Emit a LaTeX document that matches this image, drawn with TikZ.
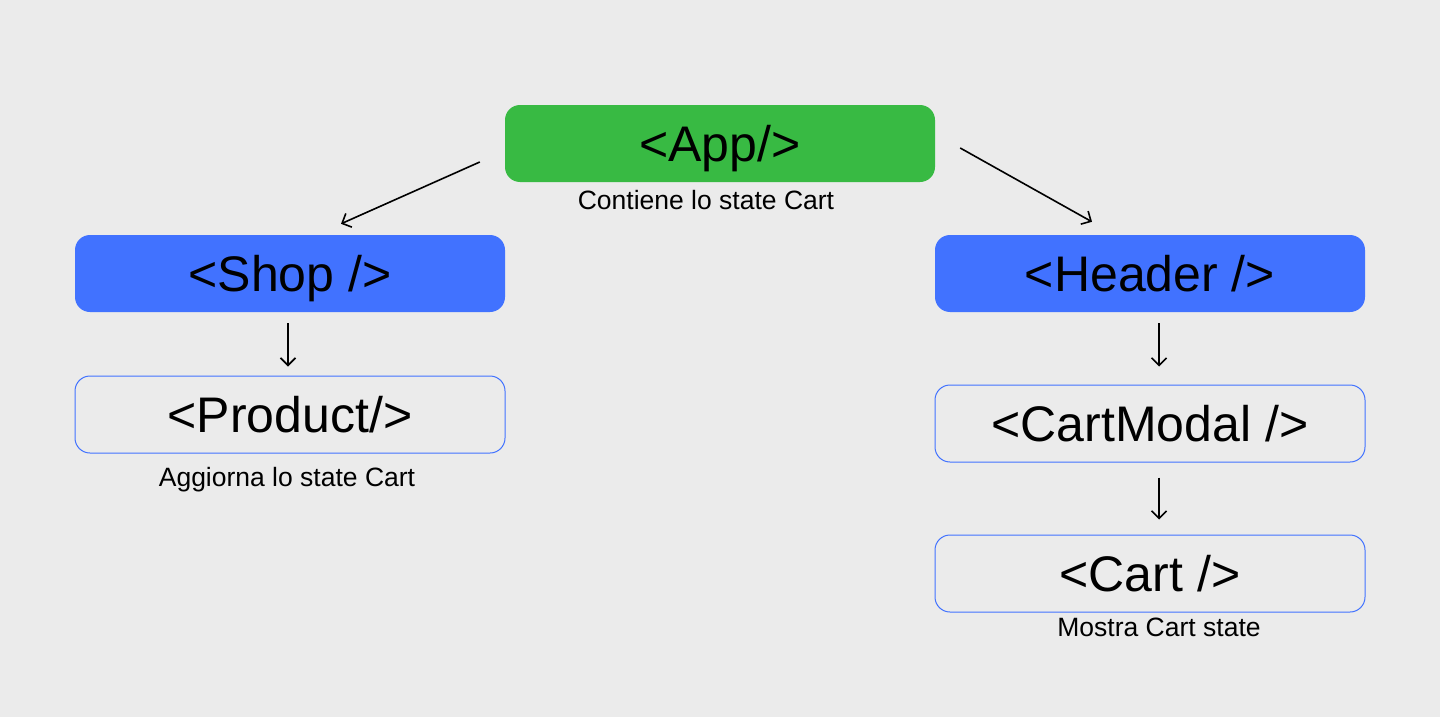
\documentclass[tikz,border=0pt]{standalone}
\usepackage{fontspec}
\setmainfont{Liberation Sans}
\usetikzlibrary{arrows.meta,calc}
\definecolor{bgc}{HTML}{EBEBEB}
\definecolor{appgreen}{HTML}{38BA43}
\definecolor{compblue}{HTML}{4172FF}
\tikzset{
  comp/.style={minimum width=430pt, minimum height=77pt, rounded corners=15pt, inner sep=0pt,
    text height=35pt, text depth=0pt, font=\fontsize{50}{50}\selectfont},
  filledcomp/.style={comp, fill=#1},
  outlinecomp/.style={comp, draw=compblue, line width=1pt, fill=bgc},
  caption/.style={font=\fontsize{26.5}{26.5}\selectfont, inner sep=0pt, text height=19pt, text depth=0pt},
  conn/.style={-{Straight Barb[length=7.5pt,width=15pt,line width=1.6pt]}, line width=1.6pt, black}
}
\begin{document}
\begin{tikzpicture}[x=1pt,y=-1pt]
\fill[bgc] (0,0) rectangle (1440,717);
\useasboundingbox (0,0) rectangle (1440,717);
\node[filledcomp=appgreen] (app) at (720,143.5) {<App/>};
\node[filledcomp=compblue] (shop) at (290,273.5) {<Shop />};
\node[filledcomp=compblue] (header) at (1150,273.5) {<Header />};
\node[outlinecomp] (product) at (290,414.5) {<Product/>};
\node[outlinecomp] (cartmodal) at (1150,423.5) {<CartModal />};
\node[outlinecomp] (cart) at (1150,573.5) {<Cart />};
\node[caption] (capapp) at (706,200) {Contiene lo state Cart};
\node[caption] (capprod) at (287,476.5) {Aggiorna lo state Cart};
\node[caption] (capcart) at (1159,626.5) {Mostra Cart state};
\coordinate (a1s) at ($(app.west)+(-25,18.5)$);
\coordinate (a1e) at ($(shop.north)+(51,-11)$);
\coordinate (a2s) at ($(app.east)+(25,4.5)$);
\coordinate (a2e) at ($(header.north)+(-58,-13)$);
\draw[conn] (a1s) -- (a1e);
\draw[conn] (a2s) -- (a2e);
\coordinate (v1s) at ($(shop.south)+(-2,11)$);
\coordinate (v1e) at ($(product.north)+(-2,-9)$);
\coordinate (v2s) at ($(header.south)+(9,11)$);
\coordinate (v2e) at ($(cartmodal.north)+(9,-18)$);
\coordinate (v3s) at ($(cartmodal.south)+(9,15)$);
\coordinate (v3e) at ($(cart.north)+(9,-15)$);
\draw[conn] (v1s) -- (v1e);
\draw[conn] (v2s) -- (v2e);
\draw[conn] (v3s) -- (v3e);
\end{tikzpicture}
\end{document}
